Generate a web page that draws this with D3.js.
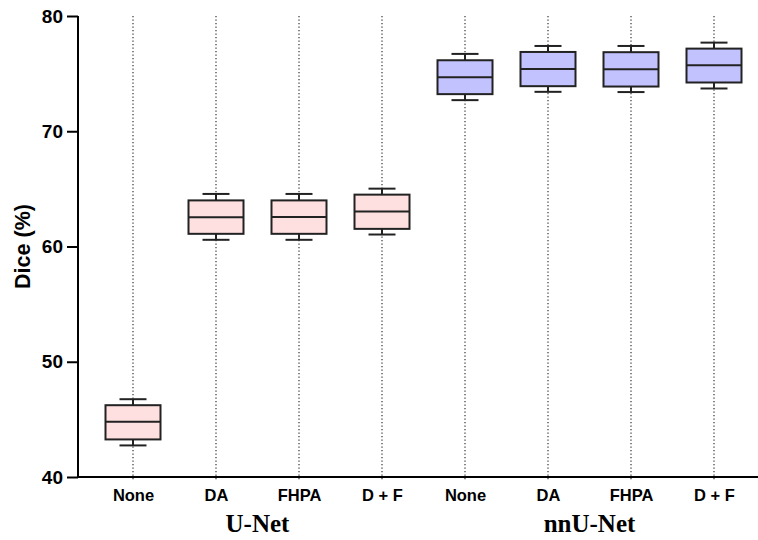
<!DOCTYPE html>
<html>
<head>
<meta charset="utf-8">
<script src="https://cdn.jsdelivr.net/npm/d3@7"></script>
<style>
  html, body { margin: 0; padding: 0; background: #fff; }
  svg { display: block; }
</style>
</head>
<body>
<svg id="chart" width="758" height="540"></svg>
<script>
const categories = ["None", "DA", "FHPA", "D + F", "None", "DA", "FHPA", "D + F"];
const groups = ["U-Net", "U-Net", "U-Net", "U-Net", "nnU-Net", "nnU-Net", "nnU-Net", "nnU-Net"];
const groupNames = ["U-Net", "nnU-Net"];
const whiskerLow  = [42.74, 60.58, 60.58, 61.04, 72.70, 73.42, 73.40, 73.71];
const q1          = [43.26, 61.10, 61.10, 61.53, 73.22, 73.91, 73.88, 74.23];
const median      = [44.79, 62.54, 62.56, 63.03, 74.69, 75.41, 75.38, 75.73];
const q3          = [46.23, 64.00, 64.00, 64.50, 76.16, 76.88, 76.86, 77.17];
const whiskerHigh = [46.75, 64.56, 64.56, 65.02, 76.71, 77.40, 77.40, 77.69];
const yTicks = [40, 50, 60, 70, 80];
const yLabel = "Dice (%)";

const fills = { "U-Net": "#ffe0e0", "nnU-Net": "#c2c2ff" };

const svg = d3.select("#chart");
const mLeft = 78, mTop = 16, mBottom = 477, mRight = 758;

const idx = d3.range(categories.length);
const x = d3.scalePoint().domain(idx).range([133, 714]);
const y = d3.scaleLinear().domain([40, 80]).range([mBottom, mTop]);

// dotted vertical guide lines
svg.append("g").selectAll("line").data(idx).join("line")
  .attr("x1", d => x(d)).attr("x2", d => x(d))
  .attr("y1", y(80)).attr("y2", mBottom + 4)
  .attr("stroke", "#333").attr("stroke-width", 1.2)
  .attr("stroke-dasharray", "1.3,2.2");

// y axis
const yAxis = svg.append("g").attr("transform", `translate(${mLeft},0)`)
  .call(d3.axisLeft(y).tickValues(yTicks).tickSize(11).tickPadding(4).tickFormat(d3.format("d")));
yAxis.select(".domain").remove();
yAxis.append("line").attr("x1", 0).attr("x2", 0).attr("y1", y(80)).attr("y2", mBottom)
  .attr("stroke", "#000").attr("stroke-width", 2);
yAxis.selectAll(".tick line").attr("stroke", "#000").attr("stroke-width", 2);
yAxis.selectAll(".tick text")
  .attr("fill", "#000")
  .style("font-family", "Liberation Sans, Arial, sans-serif")
  .style("font-weight", "bold").style("font-size", "19px");

// x axis
const xAxis = svg.append("g").attr("transform", `translate(0,${mBottom})`)
  .call(d3.axisBottom(x).tickSize(0).tickPadding(12).tickFormat(i => categories[i]));
xAxis.select(".domain").remove();
xAxis.append("line").attr("x1", mLeft - 1).attr("x2", mRight).attr("y1", 0).attr("y2", 0)
  .attr("stroke", "#000").attr("stroke-width", 2);
xAxis.selectAll(".tick text")
  .attr("fill", "#000")
  .style("font-family", "Liberation Sans, Arial, sans-serif")
  .style("font-weight", "bold").style("font-size", "16.5px");

// group labels
groupNames.forEach(g => {
  const members = idx.filter(i => groups[i] === g);
  const cx = (x(members[0]) + x(members[members.length - 1])) / 2;
  svg.append("text").attr("x", cx).attr("y", 532)
    .attr("text-anchor", "middle")
    .style("font-family", "Liberation Serif, Times New Roman, serif")
    .style("font-weight", "bold").style("font-size", "25px")
    .text(g);
});

// y label
svg.append("text")
  .attr("transform", `translate(30,${(mTop + mBottom) / 2}) rotate(-90)`)
  .attr("text-anchor", "middle")
  .style("font-family", "Liberation Sans, Arial, sans-serif")
  .style("font-weight", "bold").style("font-size", "21.5px")
  .text(yLabel);

// boxes
const boxW = 55, capW = 27;
const box = svg.append("g").selectAll("g").data(idx).join("g");
box.append("line")
  .attr("x1", d => x(d)).attr("x2", d => x(d))
  .attr("y1", d => y(whiskerLow[d])).attr("y2", d => y(whiskerHigh[d]))
  .attr("stroke", "#222").attr("stroke-width", 2);
box.append("line")
  .attr("x1", d => x(d) - capW / 2).attr("x2", d => x(d) + capW / 2)
  .attr("y1", d => y(whiskerLow[d])).attr("y2", d => y(whiskerLow[d]))
  .attr("stroke", "#222").attr("stroke-width", 2);
box.append("line")
  .attr("x1", d => x(d) - capW / 2).attr("x2", d => x(d) + capW / 2)
  .attr("y1", d => y(whiskerHigh[d])).attr("y2", d => y(whiskerHigh[d]))
  .attr("stroke", "#222").attr("stroke-width", 2);
box.append("rect")
  .attr("x", d => x(d) - boxW / 2).attr("width", boxW)
  .attr("y", d => y(q3[d])).attr("height", d => y(q1[d]) - y(q3[d]))
  .attr("fill", d => fills[groups[d]])
  .attr("stroke", "#222").attr("stroke-width", 2);
box.append("line")
  .attr("x1", d => x(d) - boxW / 2).attr("x2", d => x(d) + boxW / 2)
  .attr("y1", d => y(median[d])).attr("y2", d => y(median[d]))
  .attr("stroke", "#222").attr("stroke-width", 2);
</script>
</body>
</html>
